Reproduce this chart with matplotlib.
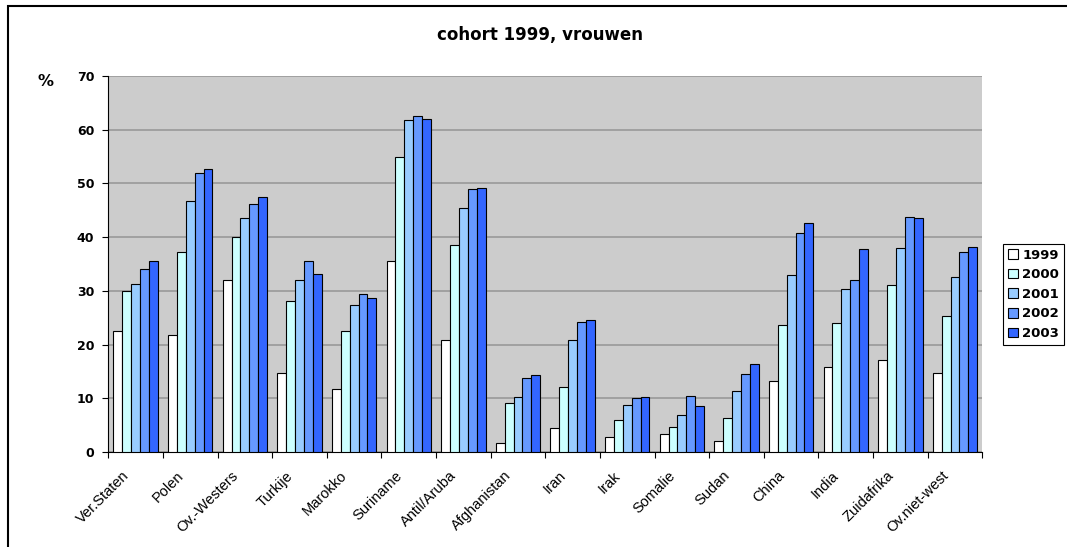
import numpy as np
import matplotlib
matplotlib.use("Agg")
import matplotlib.pyplot as plt
import matplotlib.transforms as mtransforms
from matplotlib.patches import Rectangle, Patch

categories = ["Ver.Staten", "Polen", "Ov.-Westers", "Turkije", "Marokko", "Suriname",
              "Antil/Aruba", "Afghanistan", "Iran", "Irak", "Somalie", "Sudan",
              "China", "India", "Zuidafrika", "Ov.niet-west"]
years = ["1999", "2000", "2001", "2002", "2003"]
v1999 = [22.5, 21.8, 32.0, 14.8, 11.7, 35.5, 20.9, 1.6, 4.5, 2.7, 3.3, 2.0, 13.2, 15.8, 17.2, 14.7]
v2000 = [30.0, 37.3, 40.0, 28.2, 22.5, 55.0, 38.6, 9.1, 12.1, 6.0, 4.6, 6.3, 23.6, 24.0, 31.0, 25.4]
v2001 = [31.2, 46.8, 43.5, 32.0, 27.3, 61.8, 45.5, 10.3, 20.8, 8.8, 6.9, 11.3, 32.9, 30.4, 37.9, 32.6]
v2002 = [34.0, 52.0, 46.2, 35.5, 29.5, 62.6, 48.9, 13.7, 24.2, 10.0, 10.4, 14.6, 40.8, 32.0, 43.8, 37.3]
v2003 = [35.5, 52.7, 47.4, 33.1, 28.6, 62.0, 49.2, 14.4, 24.5, 10.3, 8.5, 16.3, 42.7, 37.8, 43.6, 38.1]
series = [v1999, v2000, v2001, v2002, v2003]
colors = ["#FFFFFF", "#CCFFFF", "#99CCFF", "#6699FF", "#3366FF"]

fig = plt.figure(figsize=(10.67, 5.47), dpi=100)
fig.patch.set_facecolor("white")
# outer chart frame
fig.patches.append(Rectangle((8 / 1067, -0.2), 2.0, 1.2 - 6 / 547, transform=fig.transFigure,
                             fill=False, edgecolor="black", linewidth=1.5, zorder=0))

ax = fig.add_axes([108.3 / 1067, 1 - 452 / 547, (982.3 - 108.3) / 1067, (452 - 76) / 547])
ax.set_facecolor("#CCCCCC")

x = np.arange(len(categories))
bw = 0.1626
for i, (vals, c) in enumerate(zip(series, colors)):
    ax.bar(x + (i - 2) * bw, vals, width=bw, color=c, edgecolor="black",
           linewidth=0.8, label=years[i], zorder=3)

ax.set_xlim(-0.5, len(categories) - 0.5)
ax.set_ylim(0, 70)
ax.set_yticks(np.arange(0, 71, 10))
ax.yaxis.grid(True, color="#999999", linewidth=1.2, zorder=0)
ax.set_axisbelow(True)

for s in ["top", "right"]:
    ax.spines[s].set_visible(False)
ax.spines["left"].set_color("black")
ax.spines["bottom"].set_color("black")

ax.set_xticks(np.arange(len(categories) + 1) - 0.5)
ax.set_xticklabels([])
ax.set_xticks(x, minor=True)
ax.set_xticklabels(categories, minor=True, rotation=45, ha="right", rotation_mode="anchor",
                   fontfamily="Liberation Sans", fontsize=10.5)
ax.tick_params(axis="x", which="major", length=4, direction="out", color="black")
ax.tick_params(axis="x", which="minor", length=0, pad=12)
offset = mtransforms.ScaledTranslation(-14 / 100, 0, fig.dpi_scale_trans)
for lab in ax.get_xticklabels(minor=True):
    lab.set_transform(lab.get_transform() + offset)
ax.tick_params(axis="y", length=4, direction="out", color="black", pad=6)
for lab in ax.get_yticklabels():
    lab.set_fontfamily("DejaVu Sans")
    lab.set_fontweight("bold")
    lab.set_fontsize(9)

fig.text(540 / 1067, 1 - 35 / 547, "cohort 1999, vrouwen", ha="center", va="center",
         fontfamily="DejaVu Sans", fontweight="bold", fontsize=12)
fig.text(45 / 1067, 1 - 82 / 547, "%", ha="center", va="center",
         fontfamily="DejaVu Sans", fontweight="bold", fontsize=11.5)

handles = [Patch(facecolor=c, edgecolor="black", linewidth=0.8, label=y) for c, y in zip(colors, years)]
leg = fig.legend(handles=handles, loc="upper left", bbox_to_anchor=(1003 / 1067, 1 - 244 / 547),
                 frameon=True, fancybox=False, edgecolor="black", framealpha=1,
                 prop={"family": "DejaVu Sans", "weight": "bold", "size": 9.5},
                 handlelength=0.75, handleheight=0.75, handletextpad=0.35,
                 labelspacing=0.5, borderpad=0.35, borderaxespad=0)
leg.get_frame().set_linewidth(0.8)

fig.savefig("out.png", dpi=100)
